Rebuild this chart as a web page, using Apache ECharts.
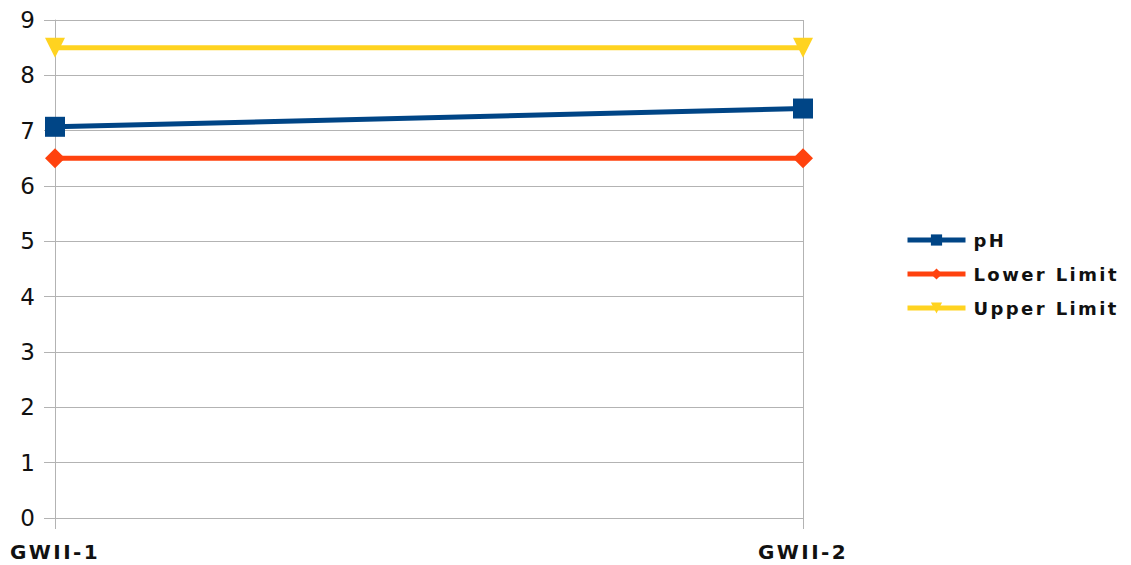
<!DOCTYPE html>
<html>
<head>
<meta charset="utf-8">
<script src="https://cdn.jsdelivr.net/npm/echarts@6/dist/echarts.min.js"></script>
<style>
  html, body { margin: 0; padding: 0; background: #fff; }
  #chart { width: 1131px; height: 565px; }
  /* bold captions (category names and legend) are drawn with wide tracking */
  #chart text[style*="bold"] { letter-spacing: 2.4px; }
</style>
</head>
<body>
<div id="chart"></div>
<script>
// Sampling wells and the measured pH against the permitted range
const categories = ['GWII-1', 'GWII-2'];
const phValues = [7.07, 7.40];
const lowerLimit = [6.5, 6.5];
const upperLimit = [8.5, 8.5];
const yTicks = [0, 1, 2, 3, 4, 5, 6, 7, 8, 9];

const chart = echarts.init(document.getElementById('chart'), null, { renderer: 'svg' });

const gridColor = '#b3b3b3';
const fontFamily = 'DejaVu Sans, Verdana, sans-serif';

function lineSeries(name, data, color, symbol, size) {
  return {
    name: name,
    type: 'line',
    data: data,
    symbol: symbol,
    symbolSize: size,
    lineStyle: { color: color, width: 5 },
    itemStyle: { color: color },
    emphasis: { disabled: true },
    animation: false,
    z: 3
  };
}

chart.setOption({
  backgroundColor: '#ffffff',
  animation: false,
  grid: { left: 55, right: 328, top: 20, bottom: 47, containLabel: false },
  legend: {
    orient: 'vertical',
    left: 905,
    top: 231,
    padding: 0,
    itemWidth: 58,
    itemHeight: 14,
    itemGap: 16,
    lineStyle: { width: 5 },
    textStyle: {
      fontFamily: fontFamily,
      fontWeight: 'bold',
      fontSize: 18,
      color: '#111',
      padding: [0, 0, 0, 3]
    },
    data: ['pH', 'Lower Limit', 'Upper Limit']
  },
  xAxis: {
    type: 'category',
    data: categories,
    boundaryGap: false,
    axisLine: { lineStyle: { color: gridColor, width: 1 } },
    axisTick: { show: true, length: 11, lineStyle: { color: gridColor } },
    splitLine: { show: true, lineStyle: { color: gridColor, width: 1 } },
    axisLabel: {
      margin: 24,
      fontFamily: fontFamily,
      fontWeight: 'bold',
      fontSize: 20,
      color: '#111'
    }
  },
  yAxis: {
    type: 'value',
    min: yTicks[0],
    max: yTicks[yTicks.length - 1],
    interval: 1,
    axisLine: { show: true, lineStyle: { color: gridColor } },
    axisTick: { show: true, length: 11, lineStyle: { color: gridColor } },
    splitLine: { show: true, lineStyle: { color: gridColor, width: 1 } },
    axisLabel: {
      margin: 20,
      fontFamily: fontFamily,
      fontSize: 23,
      color: '#111',
      padding: [5, 0, 0, 0]
    }
  },
  series: [
    lineSeries('pH', phValues, '#004586', 'rect', 20),
    lineSeries('Lower Limit', lowerLimit, '#ff420e', 'diamond', 20),
    lineSeries('Upper Limit', upperLimit, '#ffd320', 'path://M0,0 L10,0 L5,10 Z', 20)
  ]
});
</script>
</body>
</html>
